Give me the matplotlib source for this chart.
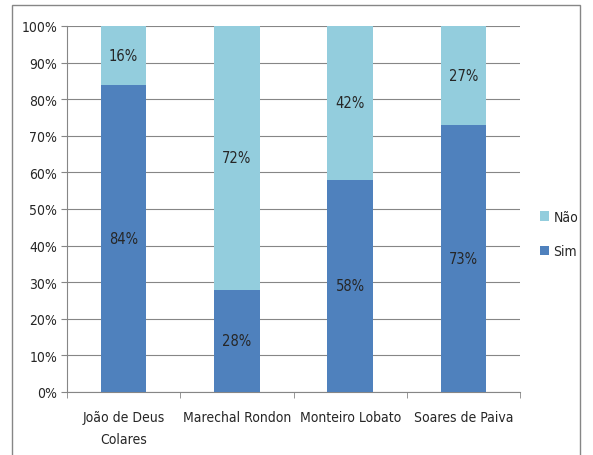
import matplotlib.pyplot as plt
import numpy as np
from matplotlib.patches import Rectangle

plt.rcParams['font.family'] = ['DejaVu Sans']
plt.rcParams['font.stretch'] = 'condensed'

escolas = ["João de Deus\nColares", "Marechal Rondon", "Monteiro Lobato", "Soares de Paiva"]
sim = [84, 28, 58, 73]
nao = [16, 72, 42, 27]

cor_sim = "#4F81BD"
cor_nao = "#93CDDD"
cor_grade = "#868686"
cor_texto = "#262626"

fig = plt.figure(figsize=(5.93, 4.56), dpi=100)
fig.patches.append(Rectangle((12 / 593, -0.05), (580 - 12) / 593, 1.05 - 6 / 456,
                             transform=fig.transFigure, fill=False,
                             edgecolor=cor_grade, linewidth=1))
ax = fig.add_axes([67 / 593, 1 - 393 / 456, (520 - 67) / 593, (393 - 27) / 456])

x = np.arange(len(escolas))
b1 = ax.bar(x, sim, width=0.4, color=cor_sim, label="Sim", zorder=3)
b2 = ax.bar(x, nao, width=0.4, bottom=sim, color=cor_nao, label="Não", zorder=3)

for rect, v in zip(b1, sim):
    ax.text(rect.get_x() + rect.get_width() / 2, v / 2, f"{v}%",
            ha="center", va="center", fontsize=10.5, color=cor_texto, zorder=4)
for rect, v, s in zip(b2, nao, sim):
    ax.text(rect.get_x() + rect.get_width() / 2, s + v / 2, f"{v}%",
            ha="center", va="center", fontsize=10.5, color=cor_texto, zorder=4)

ax.set_xlim(-0.5, len(escolas) - 0.5)
ax.set_ylim(0, 100)
ax.set_yticks(np.arange(0, 101, 10))
ax.set_yticklabels([f"{t}%" for t in range(0, 101, 10)], fontsize=10, color=cor_texto)
ax.yaxis.grid(True, color=cor_grade, linewidth=0.8, zorder=0)

ax.set_xticks(x)
ax.set_xticklabels(escolas, fontsize=10, color=cor_texto, linespacing=1.7)
ax.set_xticks(np.arange(-0.5, len(escolas), 1), minor=True)
ax.tick_params(axis="x", which="major", length=0, pad=13)
ax.tick_params(axis="x", which="minor", length=4, color=cor_grade, direction="out")
ax.tick_params(axis="y", length=4, color=cor_grade, pad=3)

for s in ["top", "right"]:
    ax.spines[s].set_visible(False)
for s in ["left", "bottom"]:
    ax.spines[s].set_color(cor_grade)

handles, labels = ax.get_legend_handles_labels()
leg = fig.legend(handles[::-1], labels[::-1], loc="center left",
                 bbox_to_anchor=(527 / 593, 1 - 235 / 456), frameon=False,
                 fontsize=10, handlelength=0.7, handleheight=0.7,
                 handletextpad=0.3, labelspacing=1.5)
for t in leg.get_texts():
    t.set_color(cor_texto)

fig.savefig("out.png", dpi=100)
